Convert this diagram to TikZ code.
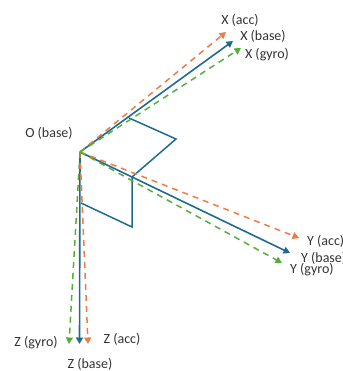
\documentclass[tikz,border=0pt]{standalone}
\usepackage{fontspec}
\setmainfont{Carlito}
\usetikzlibrary{arrows.meta}
\definecolor{bluec}{HTML}{1F6B8E}
\definecolor{orangec}{HTML}{EE7B45}
\definecolor{greenc}{HTML}{55AE3A}
\definecolor{textc}{HTML}{333333}
\tikzset{
  base/.style={draw=bluec,line width=1.6pt,-{Triangle[length=6.5pt,width=7pt]}},
  acc/.style={draw=orangec,line width=1.5pt,dash pattern=on 6pt off 5pt,-{Triangle[length=6.5pt,width=7pt]}},
  gyro/.style={draw=greenc,line width=1.5pt,dash pattern=on 6pt off 5pt,-{Triangle[length=6.5pt,width=7pt]}},
  square/.style={draw=bluec,line width=1.5pt,line join=miter},
  lab/.style={inner sep=0pt,text=textc,font=\fontsize{14}{16}\selectfont,anchor=center}
}
\begin{document}
\begin{tikzpicture}[x=1pt,y=-1pt]
\useasboundingbox (0,0) rectangle (342,371);
\clip (0,0) rectangle (342,371);
\coordinate (O) at (80,152);
\coordinate (Xb) at (233,41);
\coordinate (Xa) at (226,32);
\coordinate (Xg) at (241,48);
\coordinate (Yb) at (290,253);
\coordinate (Ya) at (299,238);
\coordinate (Yg) at (282,263);
\coordinate (Zb) at (79.5,344);
\coordinate (Za) at (88,344);
\coordinate (Zg) at (69,344);
\coordinate (S1) at (129,118);
\coordinate (S2) at (176,139);
\coordinate (S3) at (132,177);
\coordinate (S4) at (132,227);
\coordinate (S5) at (81,203);
\draw[square] (S1) -- (S2) -- (S3) -- (S4) -- (S5);
\draw[base] (O) -- (Xb);
\draw[base] (O) -- (Yb);
\draw[base] (O) -- (Zb);
\draw[acc] (O) -- (Xa);
\draw[acc] (O) -- (Ya);
\draw[acc] (O) -- (Za);
\draw[gyro] (O) -- (Xg);
\draw[gyro] (O) -- (Yg);
\draw[gyro] (O) -- (Zg);
\node[lab] (lO) at (49,133) {O (base)};
\node[lab] (lXa) at (240,20) {X (acc)};
\node[lab] (lXb) at (263,36) {X (base)};
\node[lab] (lXg) at (267,55) {X (gyro)};
\node[lab,anchor=west] (lYa) at (307,241) {Y (acc)};
\node[lab,anchor=west] (lYb) at (301,258) {Y (base)};
\node[lab,anchor=west] (lYg) at (290,270) {Y (gyro)};
\node[lab] (lZg) at (36,343) {Z (gyro)};
\node[lab] (lZa) at (122,339) {Z (acc)};
\node[lab] (lZb) at (90,364) {Z (base)};
\end{tikzpicture}
\end{document}
